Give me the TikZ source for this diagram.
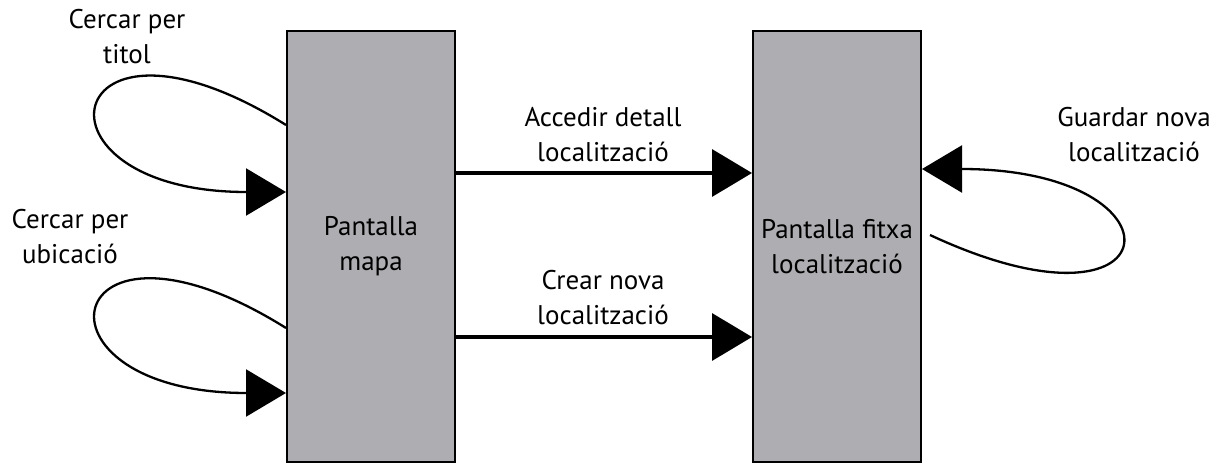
\documentclass[tikz,border=0pt]{standalone}
\usepackage{fontspec}
\setmainfont{PT Sans}
\usetikzlibrary{arrows.meta}
\definecolor{boxgray}{RGB}{174,173,178}
\begin{document}
\begin{tikzpicture}[x=1pt,y=1pt,
  screen/.style={draw=black,line width=2pt,fill=boxgray,minimum width=168pt,minimum height=431pt,inner sep=0pt},
  lbl/.style={align=center,font=\fontsize{27}{35}\selectfont,inner sep=0pt},
  big/.style={-{Triangle[length=40pt,width=47pt]}},
  flow/.style={big,line width=3.5pt},
  loop/.style={big,line width=2.3pt}]
\useasboundingbox (0,0) rectangle (1223,464);
\node[screen] (mapa) at (371,217.5) {};
\node[screen] (fitxa) at (837,217.5) {};
\node[lbl] at (mapa.center) {Pantalla\\mapa};
\node[lbl] at (fitxa.center) {Pantalla fitxa\\localització};
% transitions between the two screens
\draw[flow] ([yshift=73.5pt]mapa.east) -- ([yshift=73.5pt]fitxa.west);
\draw[flow] ([yshift=-90.5pt]mapa.east) -- ([yshift=-90.5pt]fitxa.west);
\node[lbl] (l1) at (603,329) {Accedir detall\\localització};
\node[lbl] (l2) at (603,166) {Crear nova\\localització};
% self loops
\draw[loop] ([yshift=121.5pt]mapa.west) .. controls +(148:268pt) and +(180:268pt) .. ([yshift=54.5pt]mapa.west);
\draw[loop] ([yshift=-81.5pt]mapa.west) .. controls +(148:268pt) and +(180:268pt) .. ([yshift=-146.5pt]mapa.west);
\draw[loop] ([xshift=8pt,yshift=11.5pt]fitxa.east) .. controls +(-25:270pt) and +(0:270pt) .. ([yshift=77.5pt]fitxa.east);
\node[lbl] (l3) at (127,427) {Cercar per\\titol};
\node[lbl] (l4) at (70,227) {Cercar per\\ubicació};
\node[lbl] (l5) at (1134,329) {Guardar nova\\localització};
\end{tikzpicture}
\end{document}
